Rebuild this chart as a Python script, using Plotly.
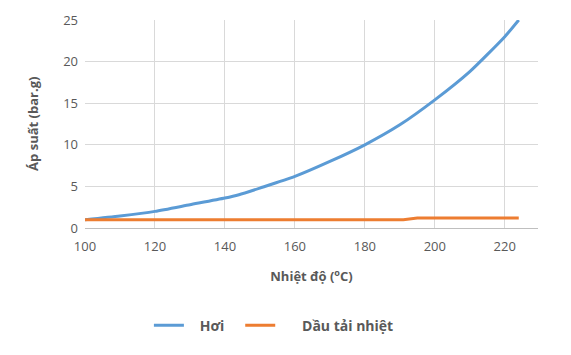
import plotly.graph_objects as go

temp_hoi = [100, 110, 120, 130, 140, 144, 150, 160, 170, 180, 190, 200, 210, 220, 224]
p_hoi = [1.0, 1.45, 2.0, 2.8, 3.6, 4.0, 4.8, 6.2, 8.0, 10.0, 12.4, 15.4, 18.8, 23.0, 25.0]
temp_dau = [100, 191, 195, 224]
p_dau = [1.0, 1.0, 1.2, 1.2]

FONT = "'Open Sans', sans-serif"
GREY = "#595959"
NB = "\u00a0"

fig = go.Figure()
fig.add_trace(go.Scatter(x=temp_hoi, y=p_hoi, mode="lines", name=NB * 3 + "Hơi" + NB * 3,
                         line=dict(color="#5B9BD5", width=3, shape="spline", smoothing=0.6)))
fig.add_trace(go.Scatter(x=temp_dau, y=p_dau, mode="lines",
                         name=NB * 6 + "Dầu tải nhiệt",
                         line=dict(color="#ED7D31", width=3)))

fig.update_layout(
    width=571, height=355,
    margin=dict(l=85, r=33, t=20, b=127),
    paper_bgcolor="white", plot_bgcolor="white",
    font=dict(family=FONT, size=13, color=GREY),
    showlegend=True,
    legend=dict(orientation="h", x=0.417, xanchor="center", y=-0.47, yanchor="middle",
                font=dict(size=14, color=GREY, family=FONT, weight="bold"),
                itemwidth=30),
    xaxis=dict(range=[100, 229.5], tickvals=[100, 120, 140, 160, 180, 200, 220],
               showgrid=True, gridcolor="#D9D9D9", gridwidth=1,
               showline=True, linecolor="#BFBFBF", linewidth=1,
               zeroline=False, ticks="", ticklabelstandoff=6,
               title=dict(text="Nhiệt độ (<sup>o</sup>C)", standoff=18,
                          font=dict(size=13, color=GREY, weight="bold"))),
    yaxis=dict(range=[0, 25], tickvals=[0, 5, 10, 15, 20, 25],
               showgrid=True, gridcolor="#D9D9D9", gridwidth=1,
               showline=False, zeroline=False, ticks="", ticklabelstandoff=6),
    annotations=[dict(text="Áp suất (bar.g)", xref="paper", yref="paper",
                      x=-0.115, y=0.5, xanchor="center", yanchor="middle",
                      textangle=-90, showarrow=False,
                      font=dict(size=13, color=GREY, family=FONT, weight="bold"))],
)

fig.write_html("out.html")
